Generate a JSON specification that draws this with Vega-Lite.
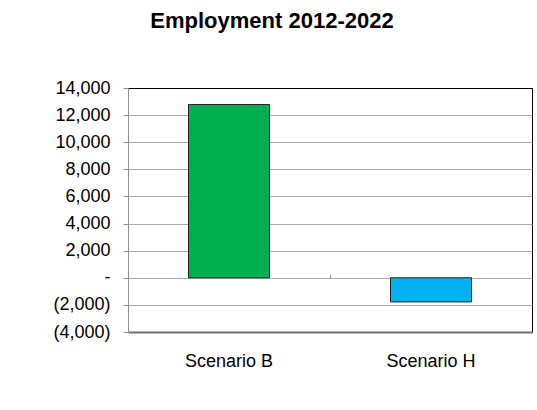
{
  "$schema": "https://vega.github.io/schema/vega-lite/v6.json",
  "autosize": "none",
  "width": 404,
  "height": 244,
  "padding": {"left": 128, "top": 88, "right": 5, "bottom": 78},
  "background": "white",
  "title": {
    "text": "Employment 2012-2022",
    "font": "Liberation Sans",
    "fontSize": 22,
    "fontWeight": "bold",
    "color": "black",
    "anchor": "middle",
    "dx": -58,
    "offset": 46
  },
  "data": {"values": [
    {"scenario": "Scenario B", "employment": 12780},
    {"scenario": "Scenario H", "employment": -1780}
  ]},
  "layer": [
    {
      "mark": {"type": "bar", "size": 81, "stroke": "#222222", "strokeWidth": 1},
      "encoding": {
        "x": {
          "field": "scenario", "type": "nominal", "sort": null,
          "scale": {"paddingInner": 0, "paddingOuter": 0},
          "axis": {
            "orient": "bottom", "title": null, "labelAngle": 0, "ticks": false,
            "domain": true, "domainColor": "#707070", "domainWidth": 2,
            "labelFont": "Liberation Sans", "labelFontSize": 18, "labelColor": "black",
            "labelPadding": 20, "grid": false
          }
        },
        "y": {
          "field": "employment", "type": "quantitative",
          "scale": {"domain": [-4000, 14000], "nice": false, "zero": false},
          "axis": {
            "title": null,
            "values": [-4000, -2000, 0, 2000, 4000, 6000, 8000, 10000, 12000, 14000],
            "labelExpr": "datum.value == 0 ? '-' : (datum.value < 0 ? '(' + format(-datum.value, ',') + ')' : format(datum.value, ','))",
            "labelOverlap": false,
            "labelBound": false,
            "labelFlush": false,
            "labelFont": "Liberation Sans", "labelFontSize": 18, "labelColor": "black",
            "labelPadding": 13, "tickSize": 5, "tickColor": "#909090",
            "domainColor": "#909090", "domainWidth": 1,
            "grid": true,
            "gridColor": {"condition": {"test": "datum.value == 14000", "value": "black"}, "value": "#aaaaaa"},
            "gridWidth": 1
          }
        },
        "color": {
          "field": "scenario", "type": "nominal",
          "scale": {"domain": ["Scenario B", "Scenario H"], "range": ["#00B050", "#00B0F0"]},
          "legend": null
        }
      }
    },
    {
      "mark": {"type": "rule", "color": "#aaaaaa", "strokeWidth": 1},
      "encoding": {
        "x": {
          "field": "scenario", "type": "nominal", "sort": null,
          "axis": {
            "orient": "top", "offset": -190, "labels": false, "domain": false,
            "ticks": true, "tickSize": 4, "tickColor": "#909090", "bandPosition": 0,
            "title": null, "grid": false
          }
        },
        "y": {
          "datum": 0, "type": "quantitative",
          "axis": {
            "title": null,
            "values": [-4000, -2000, 0, 2000, 4000, 6000, 8000, 10000, 12000, 14000],
            "labelExpr": "datum.value == 0 ? '-' : (datum.value < 0 ? '(' + format(-datum.value, ',') + ')' : format(datum.value, ','))",
            "labelOverlap": false,
            "labelBound": false,
            "labelFlush": false,
            "labelFont": "Liberation Sans", "labelFontSize": 18, "labelColor": "black",
            "labelPadding": 13, "tickSize": 5, "tickColor": "#909090",
            "domainColor": "#909090", "domainWidth": 1,
            "grid": true,
            "gridColor": {"condition": {"test": "datum.value == 14000", "value": "black"}, "value": "#aaaaaa"},
            "gridWidth": 1
          }
        },
        "size": {"value": 202}
      }
    }
  ],
  "resolve": {"axis": {"x": "independent"}},
  "config": {
    "view": {"stroke": "black", "strokeWidth": 1}
  }
}
